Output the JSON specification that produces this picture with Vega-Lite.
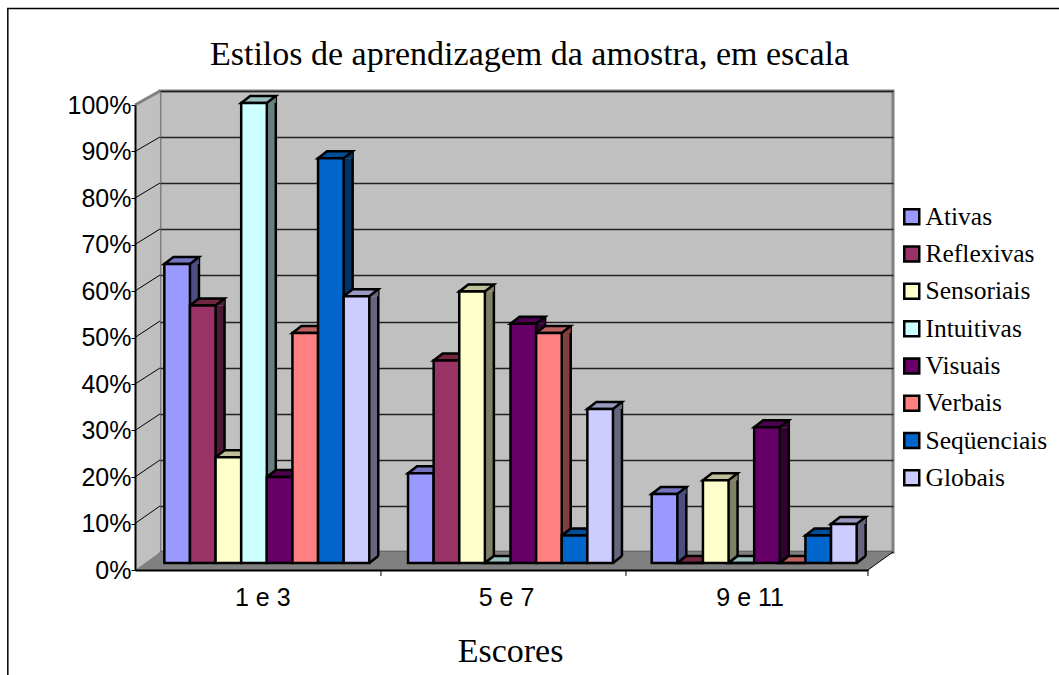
{
"$schema":"https://vega.github.io/schema/vega-lite/v6.json",
"width":733,"height":461,"autosize":"none",
"padding":{"left":160,"top":91,"right":166,"bottom":123},
"background":"white",
"view":{"fill":"#C0C0C0","stroke":"#808080","strokeWidth":3},
"title":{"text":"Estilos de aprendizagem da amostra, em escala","font":"Liberation Serif","fontSize":34,"fontWeight":"normal","color":"black","anchor":"middle","frame":"group","dx":3,"offset":-66},
"datasets":{"bars":[
{"Escore":"1 e 3","Estilo":"Ativas","v":0.65},{"Escore":"1 e 3","Estilo":"Reflexivas","v":0.56},{"Escore":"1 e 3","Estilo":"Sensoriais","v":0.23},{"Escore":"1 e 3","Estilo":"Intuitivas","v":1.0},{"Escore":"1 e 3","Estilo":"Visuais","v":0.187},{"Escore":"1 e 3","Estilo":"Verbais","v":0.5},{"Escore":"1 e 3","Estilo":"Seqüenciais","v":0.88},{"Escore":"1 e 3","Estilo":"Globais","v":0.58},
{"Escore":"5 e 7","Estilo":"Ativas","v":0.195},{"Escore":"5 e 7","Estilo":"Reflexivas","v":0.44},{"Escore":"5 e 7","Estilo":"Sensoriais","v":0.59},{"Escore":"5 e 7","Estilo":"Intuitivas","v":0},{"Escore":"5 e 7","Estilo":"Visuais","v":0.52},{"Escore":"5 e 7","Estilo":"Verbais","v":0.5},{"Escore":"5 e 7","Estilo":"Seqüenciais","v":0.06},{"Escore":"5 e 7","Estilo":"Globais","v":0.335},
{"Escore":"9 e 11","Estilo":"Ativas","v":0.15},{"Escore":"9 e 11","Estilo":"Reflexivas","v":0},{"Escore":"9 e 11","Estilo":"Sensoriais","v":0.18},{"Escore":"9 e 11","Estilo":"Intuitivas","v":0},{"Escore":"9 e 11","Estilo":"Visuais","v":0.295},{"Escore":"9 e 11","Estilo":"Verbais","v":0},{"Escore":"9 e 11","Estilo":"Seqüenciais","v":0.06},{"Escore":"9 e 11","Estilo":"Globais","v":0.085}
],"ticks":[{"t":0},{"t":0.1},{"t":0.2},{"t":0.3},{"t":0.4},{"t":0.5},{"t":0.6},{"t":0.7},{"t":0.8},{"t":0.9},{"t":1}],
"anchor":[{"Escore":"1 e 3","t":0}]},
"resolve":{"scale":{"x":"independent","y":"independent","xOffset":"independent"},"axis":{"x":"independent","y":"independent"}},
"layer":[
{"data":{"name":"ticks"},"mark":{"type":"rule","opacity":0},
 "encoding":{"y":{"field":"t","type":"quantitative","scale":{"domain":[0,1],"range":[461,0]},
 "axis":{"orient":"right","values":[0,0.1,0.2,0.3,0.4,0.5,0.6,0.7,0.8,0.9,1],"grid":true,"gridColor":"#222222","gridWidth":1.5,"labels":false,"ticks":false,"domain":false,"title":null}}}},
{"data":{"name":"anchor"},
 "encoding":{"x":{"field":"Escore","type":"nominal","scale":{"type":"band","domain":["1 e 3","5 e 7","9 e 11"],"range":[-25,708],"paddingInner":0.159,"paddingOuter":0.0835},
  "axis":{"orient":"bottom","offset":18,"title":"Escores","titleFont":"Liberation Serif","titleFontSize":34,"titleFontWeight":"normal","titleColor":"black","titleX":350,"titleY":91,"titleBaseline":"alphabetic","labelFont":"Liberation Sans","labelFontSize":25,"labelColor":"black","labelAngle":0,"labelPadding":15,"labelOffset":5,"ticks":false,"domainColor":"black","domainWidth":2,"grid":false,"zindex":1}},
  "y":{"field":"t","type":"quantitative","scale":{"domain":[0,1],"range":[479,14]},
  "axis":{"orient":"left","offset":25,"values":[0,0.1,0.2,0.3,0.4,0.5,0.6,0.7,0.8,0.9,1],"format":".0%","title":null,"grid":false,"labelFont":"Liberation Sans","labelFontSize":25,"labelColor":"black","labelPadding":0,"tickColor":"black","tickSize":4,"tickWidth":1,"domainColor":"black","domainWidth":2,"zindex":1}}},
 "layer":[
 {"mark":{"type":"point","filled":true,"opacity":1,"size":4,"fill":"#C0C0C0","stroke":"#808080","strokeWidth":0,"shape":"M-122.85,-465L-97.85,-479L-97.85,-18L-122.85,0Z"}},
 {"mark":{"type":"point","filled":true,"opacity":1,"size":4,"fill":"#808080","stroke":null,"shape":"M-122.85,0L610.15,0L635.15,-18L-97.85,-18Z"}},
 {"mark":{"type":"point","filled":false,"opacity":1,"size":4,"stroke":"black","strokeWidth":1,"shape":"M-122.85,-418.5L-97.85,-433M-122.85,-372L-97.85,-387M-122.85,-325.5L-97.85,-341M-122.85,-279L-97.85,-295M-122.85,-232.5L-97.85,-249M-122.85,-186L-97.85,-202M-122.85,-139.5L-97.85,-156M-122.85,-93L-97.85,-110M-122.85,-46.5L-97.85,-64M610.15,0L635.15,-18M123.15,0L123.15,6M368.15,0L368.15,6M610.15,0L610.15,6"}},
 {"mark":{"type":"point","filled":false,"opacity":1,"size":4,"stroke":"#808080","strokeWidth":3,"shape":"M-122.85,-465L-97.85,-479"}},
 {"mark":{"type":"point","filled":false,"opacity":1,"size":4,"stroke":"black","strokeWidth":1.5,"shape":"M-250,110L-250,-561.5L810,-561.5"}}
 ]},
{"data":{"name":"bars"},"transform":[{"filter":"datum.v>0"}],"mark":{"type":"rule","strokeWidth":9,"y2Offset":-7,"opacity":1},
 "encoding":{"x":{"field":"Escore","type":"nominal","axis":null,"scale":{"type":"band","domain":["1 e 3","5 e 7","9 e 11"],"range":[1.3,734.3],"paddingInner":0.159,"paddingOuter":0.0835}},
  "xOffset":{"field":"Estilo","type":"nominal","scale":{"type":"band","domain":["Ativas","Reflexivas","Sensoriais","Intuitivas","Visuais","Verbais","Seqüenciais","Globais"]}},
  "y":{"field":"v","type":"quantitative","axis":null,"scale":{"domain":[0,1],"range":[472,12]}},
  "y2":{"datum":0},
  "stroke":{"field":"Estilo","legend":null,"scale":{"domain":["Ativas","Reflexivas","Sensoriais","Intuitivas","Visuais","Verbais","Seqüenciais","Globais"],"range":["#4D4D80","#4D1A33","#808066","#668080","#330033","#804040","#003366","#666680"]}}}},
{"data":{"name":"bars"},"transform":[{"filter":"datum.v>0"}],"mark":{"type":"rule","stroke":"black","strokeWidth":2.5,"yOffset":-7,"y2Offset":-7,"opacity":1},
 "encoding":{"x":{"field":"Escore","type":"nominal","axis":null,"scale":{"type":"band","domain":["1 e 3","5 e 7","9 e 11"],"range":[5.8,738.8],"paddingInner":0.159,"paddingOuter":0.0835}},
  "xOffset":{"field":"Estilo","type":"nominal","scale":{"type":"band","domain":["Ativas","Reflexivas","Sensoriais","Intuitivas","Visuais","Verbais","Seqüenciais","Globais"]}},
  "y":{"field":"v","type":"quantitative","axis":null,"scale":{"domain":[0,1],"range":[472,12]}},
  "y2":{"datum":0}}},
{"data":{"name":"bars"},
 "encoding":{"x":{"field":"Escore","type":"nominal","axis":null,"scale":{"type":"band","domain":["1 e 3","5 e 7","9 e 11"],"range":[-16,717],"paddingInner":0.159,"paddingOuter":0.0835}},
  "xOffset":{"field":"Estilo","type":"nominal","scale":{"type":"band","domain":["Ativas","Reflexivas","Sensoriais","Intuitivas","Visuais","Verbais","Seqüenciais","Globais"]}},
  "y":{"field":"v","type":"quantitative","axis":null,"scale":{"domain":[0,1],"range":[472,12]}}},
 "resolve":{"scale":{"fill":"independent"},"legend":{"fill":"independent"}},
 "layer":[
 {"transform":[{"filter":"datum.v>0"}],"mark":{"type":"point","filled":true,"opacity":1,"size":4,"stroke":null,"shape":"M12.8,0L21.8,-7L21.8,0Z"},
  "encoding":{"fill":{"field":"Estilo","legend":null,"scale":{"domain":["Ativas","Reflexivas","Sensoriais","Intuitivas","Visuais","Verbais","Seqüenciais","Globais"],"range":["#4D4D80","#4D1A33","#808066","#668080","#330033","#804040","#003366","#666680"]}}}},
 {"transform":[{"filter":"datum.v>0"}],"mark":{"type":"point","filled":true,"opacity":1,"size":4,"stroke":null,"shape":"M12.8,0L12.8,-7L21.8,-7Z"},
  "encoding":{"y":{"datum":0},"fill":{"field":"Estilo","legend":null,"scale":{"domain":["Ativas","Reflexivas","Sensoriais","Intuitivas","Visuais","Verbais","Seqüenciais","Globais"],"range":["#4D4D80","#4D1A33","#808066","#668080","#330033","#804040","#003366","#666680"]}}}},
 {"transform":[{"filter":"datum.v>0"}],"mark":{"type":"point","filled":false,"opacity":1,"size":4,"stroke":"black","strokeWidth":2.5,"shape":"M12.8,0L21.8,-7"},
  "encoding":{"y":{"datum":0}}},
 {"mark":{"type":"point","filled":true,"opacity":1,"size":4,"stroke":"black","strokeWidth":2.5,"shape":"M-12.8,0L-3.8,-7L21.8,-7L12.8,0Z"},
  "encoding":{"fill":{"field":"Estilo","legend":null,"scale":{"domain":["Ativas","Reflexivas","Sensoriais","Intuitivas","Visuais","Verbais","Seqüenciais","Globais"],"range":["#7373BF","#732640","#BFBF99","#99BFBF","#4D004D","#BF6060","#004D99","#9999BF"]}}}},
 {"mark":{"type":"bar","stroke":"black","strokeWidth":2.5,"opacity":1},
  "encoding":{"y2":{"datum":0},"fill":{"field":"Estilo","scale":{"domain":["Ativas","Reflexivas","Sensoriais","Intuitivas","Visuais","Verbais","Seqüenciais","Globais"],"range":["#9999FF","#993366","#FFFFCC","#CCFFFF","#660066","#FF8080","#0066CC","#CCCCFF"]},
   "legend":{"orient":"none","legendX":739,"legendY":113,"title":null,"symbolType":"square","symbolSize":225,"symbolStrokeColor":"black","symbolStrokeWidth":2.5,"symbolOpacity":1,"labelFont":"Liberation Serif","labelFontSize":25.5,"labelColor":"black","labelOffset":1,"rowPadding":10.3,"labelLimit":200}}}}
 ]}
]}
